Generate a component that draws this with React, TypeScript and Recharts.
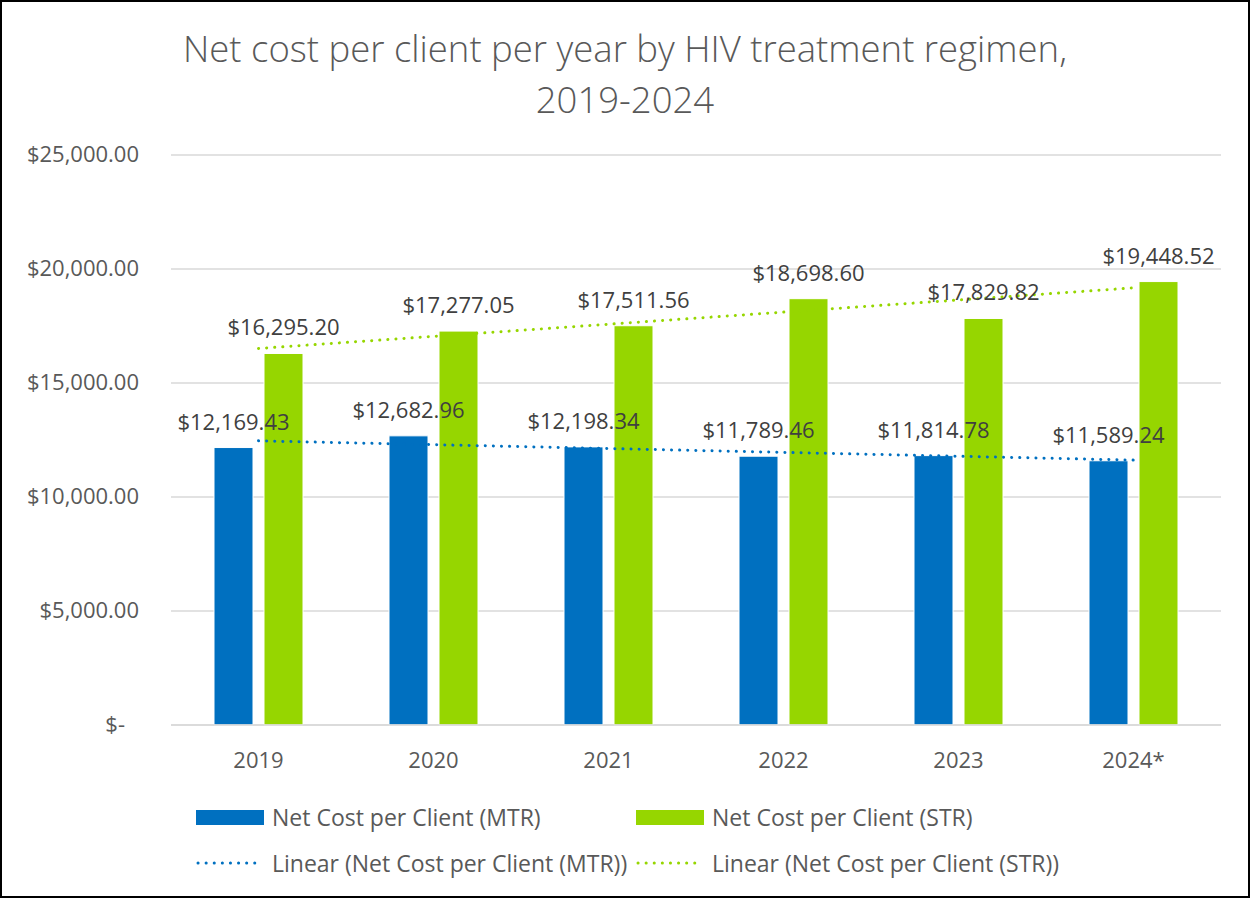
import React from "react";
import {
  ComposedChart,
  Bar,
  Line,
  XAxis,
  YAxis,
  CartesianGrid,
  LabelList,
} from "recharts";

const years = ["2019", "2020", "2021", "2022", "2023", "2024*"];
const mtrCost = [12169.43, 12682.96, 12198.34, 11789.46, 11814.78, 11589.24];
const strCost = [16295.2, 17277.05, 17511.56, 18698.6, 17829.82, 19448.52];
// trend line end points (straight dotted lines)
const mtrTrend = [12463, null, null, null, null, 11618];
const strTrend = [16514, null, null, null, null, 19173];
const yTicks = [0, 5000, 10000, 15000, 20000, 25000];

const data = years.map((year, i) => ({
  year,
  mtr: mtrCost[i],
  str: strCost[i],
  mtrTrend: mtrTrend[i],
  strTrend: strTrend[i],
}));

const BLUE = "#0070C0";
const GREEN = "#96D600";
const TEXT = "#595959";
const FONT = "'Open Sans', 'Noto Sans', sans-serif";

const money = (v: number) =>
  "$" +
  v.toLocaleString("en-US", { minimumFractionDigits: 2, maximumFractionDigits: 2 });

const YTick = (props: any) => {
  const { y, payload } = props;
  const isZero = payload.value === 0;
  return (
    <text
      x={isZero ? 125 : 139}
      y={y}
      dy={7}
      textAnchor="end"
      fontSize={22}
      fill={TEXT}
      fontFamily={FONT}
    >
      {isZero ? "$-" : money(payload.value)}
    </text>
  );
};

const LegendItem = ({
  x,
  y,
  color,
  dotted,
  label,
}: {
  x: number;
  y: number;
  color: string;
  dotted?: boolean;
  label: string;
}) => (
  <div style={{ position: "absolute", left: x, top: y, display: "flex", alignItems: "center" }}>
    {dotted ? (
      <svg width={68} height={16}>
        <line
          x1={2}
          y1={8}
          x2={66}
          y2={8}
          stroke={color}
          strokeWidth={3}
          strokeLinecap="round"
          strokeDasharray="0.1 8"
        />
      </svg>
    ) : (
      <div style={{ width: 68, height: 15, background: color }} />
    )}
    <span style={{ marginLeft: 8, fontSize: 23, color: TEXT, fontFamily: FONT }}>{label}</span>
  </div>
);

export default function App() {
  return (
    <div
      style={{
        position: "absolute",
        left: 0,
        top: 0,
        width: 1250,
        height: 898,
        background: "#fff",
        fontFamily: FONT,
      }}
    >
      <div
        style={{
          position: "absolute",
          left: 0,
          top: 23,
          width: 1250,
          textAlign: "center",
          fontSize: 36.5,
          fontWeight: 300,
          lineHeight: "51px",
          color: TEXT,
        }}
      >
        Net cost per client per year by HIV treatment regimen,
        <br />
        2019-2024
      </div>
      <div style={{ position: "absolute", left: 0, top: 0 }}>
        <ComposedChart
          width={1250}
          height={898}
          data={data}
          margin={{ top: 155, right: 29, bottom: 133, left: 0 }}
          barGap={11}
        >
          <CartesianGrid vertical={false} stroke="#d9d9d9" strokeWidth={1.5} />
          <XAxis
            dataKey="year"
            height={40}
            tickLine={false}
            axisLine={{ stroke: "#d9d9d9", strokeWidth: 1.5 }}
            tick={{ fontSize: 22, fill: TEXT, fontFamily: FONT }}
            tickMargin={21}
          />
          <YAxis
            width={171}
            domain={[0, 25000]}
            ticks={yTicks}
            axisLine={false}
            tickLine={false}
            tick={<YTick />}
          />
          <Bar
            dataKey="mtr"
            fill={BLUE}
            stroke="#fff"
            strokeWidth={1}
            barSize={39}
            isAnimationActive={false}
          >
            <LabelList
              dataKey="mtr"
              position="top"
              offset={18}
              formatter={(v: any) => money(Number(v))}
              style={{ fontSize: 22, fill: "#404040", fontFamily: FONT }}
            />
          </Bar>
          <Bar
            dataKey="str"
            fill={GREEN}
            stroke="#fff"
            strokeWidth={1}
            barSize={39}
            isAnimationActive={false}
          >
            <LabelList
              dataKey="str"
              position="top"
              offset={18}
              formatter={(v: any) => money(Number(v))}
              style={{ fontSize: 22, fill: "#404040", fontFamily: FONT }}
            />
          </Bar>
          <Line
            dataKey="mtrTrend"
            stroke={BLUE}
            strokeWidth={3}
            strokeLinecap="round"
            strokeDasharray="0.1 8"
            dot={false}
            activeDot={false}
            connectNulls
            isAnimationActive={false}
          />
          <Line
            dataKey="strTrend"
            stroke={GREEN}
            strokeWidth={3}
            strokeLinecap="round"
            strokeDasharray="0.1 8"
            dot={false}
            activeDot={false}
            connectNulls
            isAnimationActive={false}
          />
        </ComposedChart>
      </div>
      <LegendItem x={196} y={801} color={BLUE} label="Net Cost per Client (MTR)" />
      <LegendItem x={636} y={801} color={GREEN} label="Net Cost per Client (STR)" />
      <LegendItem x={196} y={847} color={BLUE} dotted label="Linear (Net Cost per Client (MTR))" />
      <LegendItem x={636} y={847} color={GREEN} dotted label="Linear (Net Cost per Client (STR))" />
      <div
        style={{
          position: "absolute",
          left: 0,
          top: 0,
          width: 1250,
          height: 898,
          boxSizing: "border-box",
          border: "2px solid #000",
          pointerEvents: "none",
        }}
      />
    </div>
  );
}
